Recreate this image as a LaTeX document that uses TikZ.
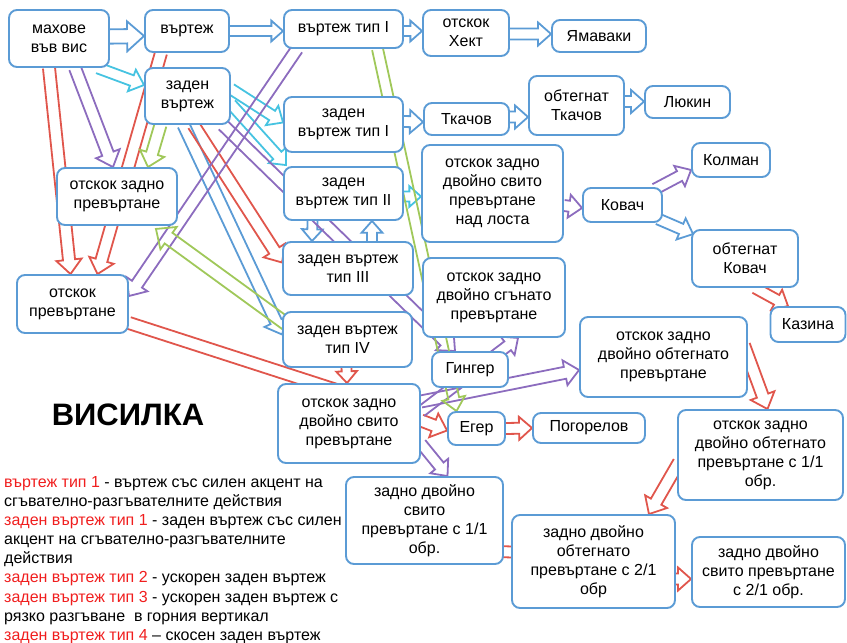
\documentclass[tikz,border=0pt]{standalone}
\usepackage{fontspec}
\setmainfont{Liberation Sans}
\usetikzlibrary{calc}
\pgfdeclarelayer{bg}
\pgfsetlayers{bg,main}
\definecolor{bx}{RGB}{91,155,213}
\definecolor{cy}{RGB}{70,195,225}
\definecolor{rd}{RGB}{224,86,76}
\definecolor{pu}{RGB}{140,108,190}
\definecolor{gr}{RGB}{160,200,90}
\definecolor{lg}{RGB}{240,30,30}
\newcommand\barr[4]{%
  \pgfmathsetlengthmacro\bsw{#2*5.5pt}%
  \pgfmathsetlengthmacro\bhw{#2*11.5pt}%
  \pgfmathsetlengthmacro\bhl{#2*13pt}%
  \path #3 coordinate (bA) #4 coordinate (bB);
  \draw[barrow,#1] ($(bA)!\bsw!90:(bB)$) -- ($(bB)!\bhl!(bA)!\bsw!-90:(bA)$) -- ($(bB)!\bhl!(bA)!\bhw!-90:(bA)$) -- (bB) -- ($(bB)!\bhl!(bA)!\bhw!90:(bA)$) -- ($(bB)!\bhl!(bA)!\bsw!90:(bA)$) -- ($(bA)!\bsw!-90:(bB)$);
}
\newcommand\bx[5]{\node[box,minimum width=#4pt,minimum height=#5pt] (#1) at (#2) {#3};}
\begin{document}
\begin{tikzpicture}[x=1pt,y=-1pt,
  box/.style={draw=bx,line width=1.9pt,rounded corners=8pt,fill=white,align=center,font=\fontsize{16}{19}\selectfont,inner sep=1pt},
  barrow/.style={line width=1.8pt,line join=miter},
  leg/.style={anchor=base west,inner sep=0pt,font=\fontsize{16}{19}\selectfont}]
\useasboundingbox (0,0) rectangle (847,643);
% nodes
\bx{mah}{59,38.5}{махове\\във вис}{100}{57}
\bx{vr}{187,31}{въртеж}{84}{42}
\bx{vr1}{343.5,29}{въртеж тип I}{119}{38}
\bx{hekt}{466,33}{отскок\\Хект}{86}{46}
\bx{yam}{599,36}{Ямаваки}{94}{32}
\bx{zv}{187.5,96}{заден\\въртеж}{85}{56}
\bx{zv1}{343.5,124.5}{заден\\въртеж тип I}{119}{55}
\bx{tk}{466.5,119}{Ткачов}{85}{32}
\bx{otk}{576.5,105.5}{обтегнат\\Ткачов}{95}{59}
\bx{lyu}{687.5,102}{Люкин}{85}{32}
\bx{zv2}{343.5,193.5}{заден\\въртеж тип II}{119}{53}
\bx{nadl}{492.5,193.5}{отскок задно\\двойно свито\\превъртане\\над лоста}{141}{97}
\bx{kov}{622.5,205}{Ковач}{79}{34}
\bx{kol}{731,160}{Колман}{78}{34}
\bx{okov}{745,258.5}{обтегнат\\Ковач}{106}{57}
\bx{kaz}{808,324.5}{Казина}{75}{35}
\bx{ozp}{117,196.5}{отскок задно\\превъртане}{120}{57}
\bx{op}{72.5,304}{отскок\\превъртане}{111}{58}
\bx{zv3}{348,268.5}{заден въртеж\\тип III}{130}{53}
\bx{zv4}{347.5,339.5}{заден въртеж\\тип IV}{129}{55}
\bx{sgn}{494,297.5}{отскок задно\\двойно сгънато\\превъртане}{142}{79}
\bx{gin}{470,369.5}{Гингер}{76}{35}
\bx{obt}{663.5,357}{отскок задно\\двойно обтегнато\\превъртане}{167}{80}
\bx{cen}{349,423.5}{отскок задно\\двойно свито\\превъртане}{142}{79}
\bx{eg}{476.5,428.5}{Егер}{57}{33}
\bx{pog}{589,428}{Погорелов}{112}{30}
\bx{obt1}{760.5,455}{отскок задно\\двойно обтегнато\\превъртане с 1/1\\обр.}{165}{90}
\bx{sv1}{424.5,520.5}{задно двойно\\свито\\превъртане с 1/1\\обр.}{157}{87}
\bx{obt2}{593.5,561.5}{задно двойно\\обтегнато\\превъртане с 2/1\\обр}{163}{93}
\bx{sv2}{768.5,572}{задно двойно\\свито превъртане\\с 2/1 обр.}{153}{70}
% title and legend
\node[font=\fontsize{31}{35}\selectfont\bfseries] (title) at (128,415) {ВИСИЛКА};
\node[leg] (l1) at (4,487) {\textcolor{lg}{въртеж тип 1} - въртеж със силен акцент на};
\node[leg] (l2) at (4,506) {сгъвателно-разгъвателните действия};
\node[leg] (l3) at (4,525) {\textcolor{lg}{заден въртеж тип 1} - заден въртеж със силен};
\node[leg] (l4) at (4,544) {акцент на сгъвателно-разгъвателните};
\node[leg] (l5) at (4,563) {действия};
\node[leg] (l6) at (4,582) {\textcolor{lg}{заден въртеж тип 2} - ускорен заден въртеж};
\node[leg] (l7) at (4,602) {\textcolor{lg}{заден въртеж тип 3} - ускорен заден въртеж с};
\node[leg] (l8) at (4,621) {рязко разгъване \ в горния вертикал};
\node[leg] (l9) at (4,640) {\textcolor{lg}{заден въртеж тип 4} – скосен заден въртеж};
% arrows
\begin{pgfonlayer}{bg}
% blue
\barr{bx}{1.3}{($(mah.east)+(0,-2)$)}{($(vr.west)+(0,5)$)}
\barr{bx}{0.9}{(vr.east)}{($(vr1.west)+(0,2)$)}
\barr{bx}{0.9}{($(vr1.east)+(0,2)$)}{($(hekt.west)+(0,-2)$)}
\barr{bx}{1}{($(hekt.east)+(0,1)$)}{($(yam.west)+(0,-2)$)}
\barr{bx}{1}{($(zv1.east)+(0,-3)$)}{($(tk.west)+(0,3)$)}
\barr{bx}{1}{($(tk.east)+(0,-2)$)}{($(otk.west)+(0,11.5)$)}
\barr{bx}{1}{($(otk.east)+(0,-4)$)}{($(lyu.west)+(0,-0.5)$)}
\barr{bx}{1}{($(kov.south east)+(-5,-4)$)}{($(okov.north west)+(2,5)$)}
\barr{bx}{0.9}{($(zv2.south)+(-31,0)$)}{($(zv3.north)+(-36,0)$)}
\barr{bx}{0.9}{($(zv3.north)+(24,0)$)}{($(zv2.south)+(28.5,0)$)}
\barr{bx}{1.1}{($(zv.south)+(-4,0)$)}{($(zv4.west)+(0,-5)$)}
% cyan
\barr{cy}{1}{($(mah.south east)+(-12,0)$)}{($(zv.west)+(0,-11)$)}
\barr{cy}{1}{($(zv.east)+(0,-7)$)}{($(zv1.west)+(0,-2)$)}
\barr{cy}{1}{($(zv.east)+(0,8)$)}{($(zv2.north west)+(3,-1)$)}
\barr{cy}{0.9}{($(zv2.east)+(0,3)$)}{($(nadl.west)+(0,3)$)}
% red
\barr{rd}{1.1}{($(mah.south)+(-10,0)$)}{($(op.north)+(-2,0)$)}
\barr{rd}{1.1}{($(vr.south)+(-26,0)$)}{($(op.north)+(25,0)$)}
\barr{rd}{1.1}{($(zv.south)+(6,0)$)}{($(zv3.west)+(0,-6)$)}
\barr{rd}{1.1}{($(op.east)+(0,19)$)}{($(cen.north)+(31,21)$)}
\barr{rd}{0.9}{($(zv4.south)+(-1,0)$)}{($(cen.north)+(-2,0)$)}
\barr{rd}{1.1}{($(cen.east)+(0,-3)$)}{($(eg.west)+(0,2)$)}
\barr{rd}{1}{(eg.east)}{(pog.west)}
\barr{rd}{1}{($(okov.south)+(10,0)$)}{($(kaz.north)+(-20,0)$)}
\barr{rd}{1.1}{($(obt.east)+(-4,-12)$)}{($(obt1.north)+(7,0)$)}
\barr{rd}{1.1}{($(obt1.west)+(2,7)$)}{($(obt2.north east)+(-27,0)$)}
\barr{rd}{1}{($(obt2.east)+(0,17.5)$)}{($(sv2.west)+(0,7)$)}
\barr{rd}{1}{($(sv1.east)+(-8,31)$)}{($(obt2.west)+(18,-9)$)}
% purple
\barr{pu}{1.1}{($(mah.south)+(16,0)$)}{($(ozp.north)+(-4,0)$)}
\barr{pu}{1.1}{($(vr1.south west)+(14,0)$)}{($(op.east)+(0,-8)$)}
\barr{pu}{1.1}{($(zv.south east)+(-8,0)$)}{($(gin.north)+(-15,0)$)}
\barr{pu}{1}{($(cen.east)+(0,-12)$)}{($(sgn.south)+(24,0)$)}
\barr{pu}{1.1}{($(cen.east)+(0,-22)$)}{($(obt.west)+(0,13)$)}
\barr{pu}{1}{($(cen.east)+(0,20)$)}{($(sv1.north)+(23,0)$)}
\barr{pu}{1}{($(nadl.east)+(0,12)$)}{($(kov.west)+(0,3)$)}
\barr{pu}{1}{($(kov.north east)+(-8,2)$)}{($(kol.south west)+(0,-8)$)}
% green
\barr{gr}{1.1}{($(zv.south)+(-27,0)$)}{($(ozp.north)+(31,0)$)}
\barr{gr}{1.2}{($(zv4.west)+(12,-10)$)}{($(ozp.south east)+(-22,3)$)}
\barr{gr}{1}{($(vr1.south)+(34,0)$)}{($(eg.north)+(-20,0)$)}
\end{pgfonlayer}
\end{tikzpicture}
\end{document}
